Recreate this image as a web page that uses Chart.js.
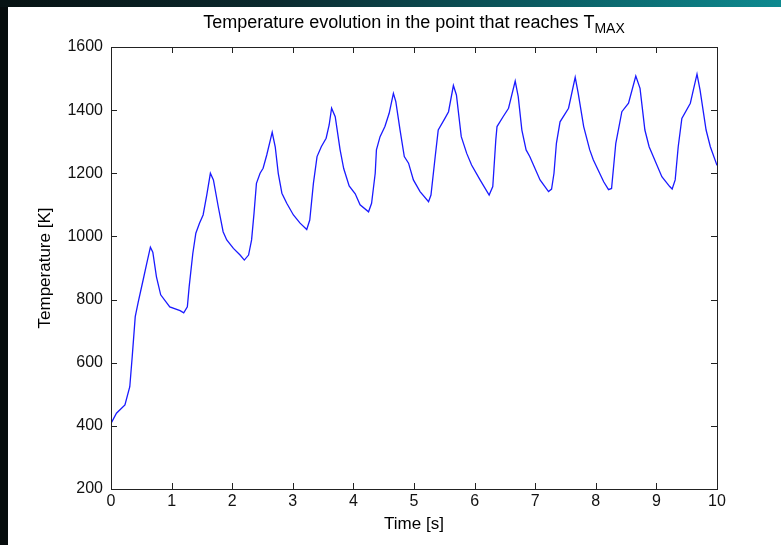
<!DOCTYPE html>
<html>
<head>
<meta charset="utf-8">
<script src="https://cdn.jsdelivr.net/npm/chart.js@4.4.0/dist/chart.umd.min.js"></script>
<style>
    html, body { margin:0; padding:0; }
    body { width:781px; height:545px; background:#060c0d; position:relative; overflow:hidden; }
    /* 위쪽 띠 */
    #topBand { position:absolute; left:0; top:0; width:781px; height:7px;
        background:linear-gradient(90deg, #071213 0%, #0b2a2e 35%, #0b5d63 70%, #0e8a90 100%); }
    /* 흰 패널 */
    #panel { position:absolute; left:8px; top:7px; width:773px; height:538px; background:#fff; }
    #chart { position:absolute; left:0; top:0; }
</style>
</head>
<body>
<div id="topBand"></div>
<div id="panel"></div>
<canvas id="chart" width="781" height="545"></canvas>
<script>
// 시간 [s]
const timeS = [
    0.00, 0.09, 0.23, 0.31, 0.35, 0.40, 0.45, 0.53, 0.59, 0.65, 0.69, 0.75, 0.82, 0.97, 1.14, 1.20,
    1.26, 1.29, 1.35, 1.40, 1.46, 1.52, 1.58, 1.64, 1.69, 1.77, 1.85, 1.91, 2.02, 2.13, 2.20,
    2.27, 2.32, 2.36, 2.40, 2.46, 2.51, 2.57, 2.63, 2.66, 2.71, 2.76, 2.82, 2.90, 3.01, 3.12, 3.23,
    3.28, 3.34, 3.40, 3.47, 3.55, 3.60, 3.64, 3.70, 3.78, 3.84, 3.93, 4.03, 4.11, 4.25,
    4.30, 4.36, 4.38, 4.44, 4.52, 4.59, 4.66, 4.70, 4.77, 4.84, 4.91, 4.99, 5.10, 5.24,
    5.28, 5.35, 5.40, 5.51, 5.57, 5.65, 5.70, 5.78, 5.87, 5.95, 6.09, 6.24,
    6.30, 6.35, 6.37, 6.47, 6.56, 6.67, 6.72, 6.78, 6.85, 6.91, 7.08, 7.22,
    7.27, 7.31, 7.35, 7.41, 7.55, 7.66, 7.71, 7.80, 7.90, 7.96, 8.13, 8.21,
    8.26, 8.33, 8.43, 8.54, 8.66, 8.73, 8.81, 8.88, 9.09, 9.22, 9.26,
    9.31, 9.36, 9.42, 9.56, 9.61, 9.67, 9.72, 9.82, 9.89, 10.00
];

// 온도 [K]
const tempK = [
    408, 440, 466, 524, 619, 746, 793, 862, 915, 966, 950, 872, 815, 777, 765, 758,
    777, 841, 946, 1010, 1042, 1068, 1131, 1200, 1179, 1094, 1015, 989, 962, 941, 925,
    941, 989, 1073, 1168, 1200, 1216, 1258, 1306, 1330, 1284, 1200, 1137, 1105, 1068, 1042, 1022,
    1052, 1168, 1253, 1284, 1311, 1353, 1406, 1379, 1275, 1215, 1160, 1135, 1100, 1078,
    1105, 1200, 1274, 1316, 1348, 1390, 1453, 1427, 1337, 1253, 1232, 1179, 1142, 1110,
    1131, 1253, 1337, 1374, 1395, 1478, 1448, 1316, 1263, 1226, 1179, 1131,
    1158, 1306, 1348, 1379, 1406, 1492, 1443, 1337, 1274, 1253, 1179, 1142,
    1150, 1200, 1295, 1363, 1406, 1504, 1453, 1348, 1274, 1242, 1173, 1148,
    1152, 1295, 1395, 1422, 1508, 1469, 1337, 1284, 1189, 1158, 1150,
    1179, 1284, 1374, 1422, 1464, 1514, 1464, 1337, 1284, 1225
];

// 축 눈금
const xTicks = [0, 1, 2, 3, 4, 5, 6, 7, 8, 9, 10];
const yTicks = [200, 400, 600, 800, 1000, 1200, 1400, 1600];

const titleText = "Temperature evolution in the point that reaches T";
const titleSub = "MAX";
const xLabel = "Time [s]";
const yLabel = "Temperature [K]";

const FONT = "'Liberation Sans', Arial, sans-serif";
const frameColor = "#222";

// 점 데이터 만들기
let points = [];
for (let i = 0; i < timeS.length; i++) {
    points.push({x: timeS[i], y: tempK[i]});
}

// matlab 처럼 안쪽 눈금 + 테두리 + 제목들
const matlabAxes = {
    id: "matlabAxes",
    afterDraw: function(chart) {
        const ctx = chart.ctx;
        const a = chart.chartArea;
        const xs = chart.scales.x;
        const ys = chart.scales.y;
        const tl = 6;

        ctx.save();
        ctx.strokeStyle = frameColor;
        ctx.lineWidth = 1;
        ctx.strokeRect(Math.round(a.left) + 0.5, Math.round(a.top) + 0.5,
            Math.round(a.right - a.left), Math.round(a.bottom - a.top));

        ctx.beginPath();
        xTicks.forEach(function(v) {
            let px = Math.round(xs.getPixelForValue(v)) + 0.5;
            ctx.moveTo(px, a.bottom);
            ctx.lineTo(px, a.bottom - tl);
            ctx.moveTo(px, a.top);
            ctx.lineTo(px, a.top + tl);
        });
        yTicks.forEach(function(v) {
            let py = Math.round(ys.getPixelForValue(v)) + 0.5;
            ctx.moveTo(a.left, py);
            ctx.lineTo(a.left + tl, py);
            ctx.moveTo(a.right, py);
            ctx.lineTo(a.right - tl, py);
        });
        ctx.stroke();

        // 제목 (아래 첨자)
        const cx = (a.left + a.right) / 2;
        ctx.fillStyle = "#000";
        ctx.textBaseline = "alphabetic";
        ctx.font = "18px " + FONT;
        let w1 = ctx.measureText(titleText).width;
        ctx.font = "14px " + FONT;
        let w2 = ctx.measureText(titleSub).width;
        let sx = cx - (w1 + w2) / 2;
        ctx.font = "18px " + FONT;
        ctx.textAlign = "left";
        ctx.fillText(titleText, sx, 28);
        ctx.font = "14px " + FONT;
        ctx.fillText(titleSub, sx + w1, 33);

        // x 라벨
        ctx.font = "17px " + FONT;
        ctx.textAlign = "center";
        ctx.textBaseline = "middle";
        ctx.fillText(xLabel, cx, 524);

        // y 라벨
        ctx.translate(45, (a.top + a.bottom) / 2);
        ctx.rotate(-Math.PI / 2);
        ctx.fillText(yLabel, 0, 0);
        ctx.restore();
    }
};

new Chart(document.getElementById("chart"), {
    type: "line",
    data: {
        datasets: [{
            data: points,
            borderColor: "#1a1aff",
            borderWidth: 1.3,
            pointRadius: 0,
            tension: 0,
            fill: false
        }]
    },
    options: {
        responsive: false,
        animation: false,
        events: [],
        layout: {
            padding: {top: 47, right: 64, bottom: 0, left: 0}
        },
        scales: {
            x: {
                type: "linear",
                min: 0,
                max: 10,
                afterFit: function(scale) { scale.height = 56; },
                afterBuildTicks: function(scale) {
                    scale.ticks = xTicks.map(function(v) { return {value: v}; });
                },
                ticks: {
                    color: "#111",
                    padding: 3,
                    maxRotation: 0,
                    font: {family: FONT, size: 16},
                    callback: function(v) { return String(v); }
                },
                grid: {display: false, drawTicks: false},
                border: {display: false}
            },
            y: {
                min: 200,
                max: 1600,
                afterFit: function(scale) { scale.width = 111; },
                afterBuildTicks: function(scale) {
                    scale.ticks = yTicks.map(function(v) { return {value: v}; });
                },
                ticks: {
                    color: "#111",
                    padding: 8,
                    font: {family: FONT, size: 16},
                    callback: function(v) { return String(v); }
                },
                grid: {display: false, drawTicks: false},
                border: {display: false}
            }
        },
        plugins: {
            legend: {display: false},
            tooltip: {enabled: false},
            title: {display: false}
        }
    },
    plugins: [matlabAxes]
});
</script>
</body>
</html>
